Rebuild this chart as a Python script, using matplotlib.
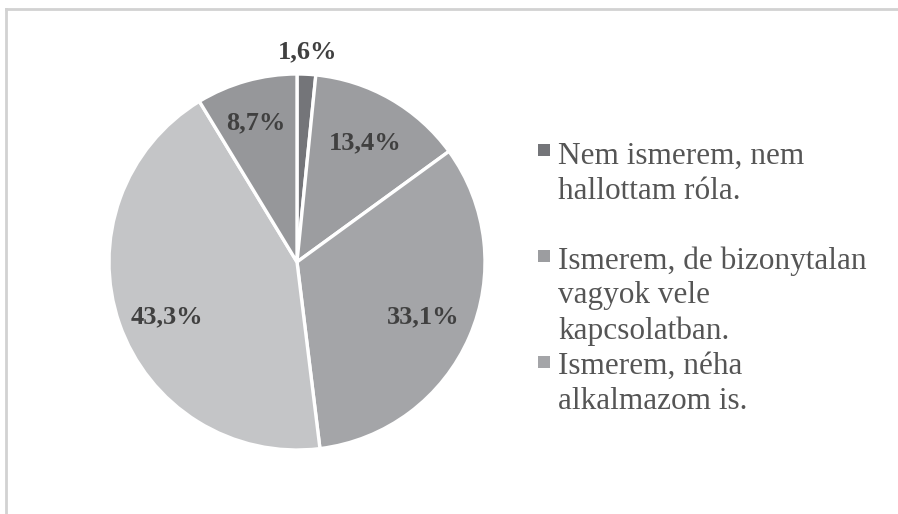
import matplotlib.pyplot as plt
from matplotlib.patches import Rectangle
from matplotlib.lines import Line2D

values = [1.6, 13.4, 33.1, 43.3, 8.7]
pct_labels = ["1,6%", "13,4%", "33,1%", "43,3%", "8,7%"]
colors = ["#747579", "#9c9da0", "#a4a5a8", "#c4c5c7", "#96979a"]
legend_labels = ["Nem ismerem, nem\nhallottam róla.",
                 "Ismerem, de bizonytalan\nvagyok vele\nkapcsolatban.",
                 "Ismerem, néha\nalkalmazom is."]

W, H = 898, 514
fig = plt.figure(figsize=(W / 100, H / 100), dpi=100)

# chart frame (top and left edges visible)
fig.add_artist(Line2D([6 / W, 1], [1 - 9 / H, 1 - 9 / H], color="#d2d2d2", lw=2))
fig.add_artist(Line2D([6 / W, 6 / W], [0, 1 - 9 / H], color="#d2d2d2", lw=2))

cx, cy, r = 297, 262, 188
ax = fig.add_axes([(cx - r) / W, (H - cy - r) / H, 2 * r / W, 2 * r / H])
wedges, texts = ax.pie(values, colors=colors, startangle=90, counterclock=False,
                       wedgeprops=dict(edgecolor="white", linewidth=2.4),
                       labels=pct_labels, labeldistance=0.73,
                       textprops=dict(family="Liberation Serif", fontweight="bold",
                                      fontsize=19, color="#404040"))
for t in texts:
    t.set_ha("center")
    t.set_va("center")
# smallest slice label sits above the pie
x, y = texts[0].get_position()
texts[0].set_position((x / 0.73 * 1.12, y / 0.73 * 1.12))
x, y = texts[4].get_position()
texts[4].set_position((x * 1.1, y * 1.05))
x, y = texts[3].get_position()
texts[3].set_position((x, y - 0.05))
ax.set_xlim(-1, 1)
ax.set_ylim(-1, 1)
ax.set_aspect("equal")
ax.axis("off")

# legend drawn by hand to keep the uneven spacing
leg_y = [150, 256, 362]
text_top = [142, 246, 352]
for lab, col, y, ty in zip(legend_labels, colors[:3], leg_y, text_top):
    fig.add_artist(Rectangle((538 / W, 1 - (y + 6) / H), 12 / W, 12 / H,
                             facecolor=col, edgecolor="none"))
    fig.text(558 / W, 1 - ty / H, lab, family="Liberation Serif",
             fontsize=22.5, color="#555555", va="top", ha="left", linespacing=1.27)

fig.savefig("out.png", dpi=100)
